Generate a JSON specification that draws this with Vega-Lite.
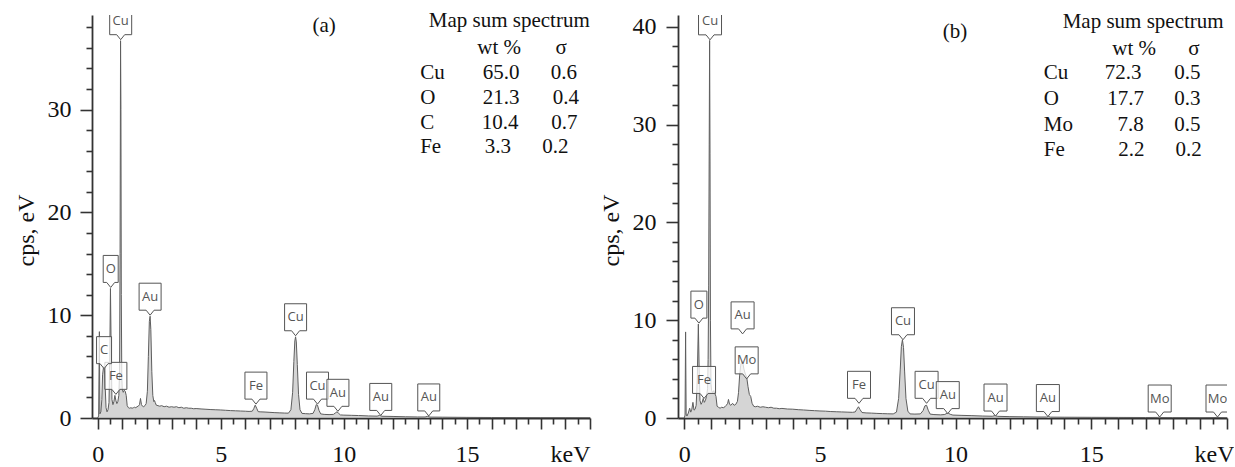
{
  "$schema": "https://vega.github.io/schema/vega-lite/v6.json",
  "background": "white",
  "padding": {"left": 14, "top": 10, "right": 0, "bottom": 0},
  "spacing": 8,
  "config": {
    "view": {"stroke": null},
    "axis": {
      "labelFont": "Liberation Serif", "labelFontSize": 24, "labelColor": "#111",
      "titleFont": "Liberation Serif", "titleFontSize": 24, "titleFontWeight": "normal", "titleColor": "#111",
      "domainColor": "#333", "domainWidth": 1.8, "tickColor": "#333", "tickWidth": 1.6,
      "grid": false, "labelOverlap": false, "labelBound": false, "labelFlush": false
    }
  },
  "datasets": {
    "specA": [
      {"keV":0,"cps":0},{"keV":0.04,"cps":0.2},{"keV":0.07,"cps":8.4},{"keV":0.09,"cps":0.4},{"keV":0.13,"cps":0.6},{"keV":0.17,"cps":1.8},{"keV":0.2,"cps":4.2},{"keV":0.24,"cps":5.0},{"keV":0.28,"cps":4.6},{"keV":0.31,"cps":2.8},{"keV":0.34,"cps":1.0},{"keV":0.38,"cps":0.6},{"keV":0.42,"cps":0.8},{"keV":0.46,"cps":1.5},{"keV":0.49,"cps":5.5},{"keV":0.52,"cps":12.6},{"keV":0.55,"cps":6.5},{"keV":0.58,"cps":1.8},{"keV":0.62,"cps":1.3},{"keV":0.66,"cps":1.6},{"keV":0.7,"cps":2.2},{"keV":0.74,"cps":1.7},{"keV":0.78,"cps":1.4},{"keV":0.82,"cps":1.6},{"keV":0.86,"cps":2.2},{"keV":0.89,"cps":4.5},{"keV":0.91,"cps":16},{"keV":0.93,"cps":36.7},{"keV":0.945,"cps":30},{"keV":0.96,"cps":12},{"keV":0.98,"cps":4},{"keV":1.0,"cps":2.8},{"keV":1.04,"cps":2.5},{"keV":1.08,"cps":2.7},{"keV":1.12,"cps":2.6},{"keV":1.16,"cps":2.2},{"keV":1.2,"cps":1.2},{"keV":1.25,"cps":1.0},{"keV":1.3,"cps":0.95},{"keV":1.35,"cps":1.0},{"keV":1.4,"cps":0.95},{"keV":1.45,"cps":1.0},{"keV":1.5,"cps":1.05},{"keV":1.55,"cps":1.0},{"keV":1.6,"cps":1.1},{"keV":1.65,"cps":1.15},{"keV":1.7,"cps":1.3},{"keV":1.74,"cps":1.9},{"keV":1.78,"cps":1.3},{"keV":1.82,"cps":1.15},{"keV":1.87,"cps":1.1},{"keV":1.92,"cps":1.2},{"keV":1.97,"cps":1.4},{"keV":2.02,"cps":2.6},{"keV":2.06,"cps":6.0},{"keV":2.1,"cps":9.4},{"keV":2.13,"cps":9.9},{"keV":2.16,"cps":8.6},{"keV":2.2,"cps":4.5},{"keV":2.24,"cps":2.2},{"keV":2.28,"cps":1.6},{"keV":2.31,"cps":1.7},{"keV":2.34,"cps":1.5},{"keV":2.38,"cps":1.25},{"keV":2.45,"cps":1.2},{"keV":2.52,"cps":1.15},{"keV":2.6,"cps":1.2},{"keV":2.7,"cps":1.1},{"keV":2.8,"cps":1.15},{"keV":2.9,"cps":1.05},{"keV":3.0,"cps":1.1},{"keV":3.1,"cps":1.05},{"keV":3.2,"cps":1.1},{"keV":3.3,"cps":1.0},{"keV":3.4,"cps":1.05},{"keV":3.5,"cps":0.95},{"keV":3.6,"cps":1.0},{"keV":3.7,"cps":0.95},{"keV":3.8,"cps":0.95},{"keV":3.9,"cps":0.9},{"keV":4.0,"cps":0.92},{"keV":4.2,"cps":0.88},{"keV":4.4,"cps":0.85},{"keV":4.6,"cps":0.82},{"keV":4.8,"cps":0.8},{"keV":5.0,"cps":0.78},{"keV":5.2,"cps":0.75},{"keV":5.4,"cps":0.72},{"keV":5.6,"cps":0.7},{"keV":5.8,"cps":0.68},{"keV":6.0,"cps":0.66},{"keV":6.15,"cps":0.64},{"keV":6.28,"cps":0.66},{"keV":6.34,"cps":0.9},{"keV":6.4,"cps":1.25},{"keV":6.46,"cps":0.95},{"keV":6.52,"cps":0.62},{"keV":6.6,"cps":0.6},{"keV":6.8,"cps":0.58},{"keV":7.0,"cps":0.55},{"keV":7.2,"cps":0.52},{"keV":7.4,"cps":0.5},{"keV":7.6,"cps":0.48},{"keV":7.75,"cps":0.47},{"keV":7.85,"cps":0.8},{"keV":7.92,"cps":2.5},{"keV":7.97,"cps":5.5},{"keV":8.01,"cps":7.5},{"keV":8.04,"cps":7.9},{"keV":8.07,"cps":7.4},{"keV":8.11,"cps":5.2},{"keV":8.16,"cps":2.3},{"keV":8.22,"cps":0.8},{"keV":8.3,"cps":0.45},{"keV":8.45,"cps":0.42},{"keV":8.6,"cps":0.4},{"keV":8.75,"cps":0.45},{"keV":8.82,"cps":0.8},{"keV":8.88,"cps":1.3},{"keV":8.93,"cps":1.25},{"keV":8.99,"cps":0.75},{"keV":9.06,"cps":0.4},{"keV":9.2,"cps":0.35},{"keV":9.4,"cps":0.33},{"keV":9.58,"cps":0.35},{"keV":9.66,"cps":0.5},{"keV":9.72,"cps":0.6},{"keV":9.78,"cps":0.48},{"keV":9.86,"cps":0.3},{"keV":10.0,"cps":0.28},{"keV":10.3,"cps":0.26},{"keV":10.6,"cps":0.24},{"keV":11.0,"cps":0.2},{"keV":11.35,"cps":0.18},{"keV":11.45,"cps":0.25},{"keV":11.55,"cps":0.17},{"keV":12.0,"cps":0.15},{"keV":12.5,"cps":0.12},{"keV":13.0,"cps":0.1},{"keV":13.3,"cps":0.1},{"keV":13.4,"cps":0.16},{"keV":13.5,"cps":0.09},{"keV":14,"cps":0.08},{"keV":15,"cps":0.06},{"keV":16,"cps":0.05},{"keV":17,"cps":0.04},{"keV":18,"cps":0.03},{"keV":19,"cps":0.03},{"keV":20,"cps":0.02}
    ],
    "specB": [
      {"keV":0,"cps":0},{"keV":0.03,"cps":0.3},{"keV":0.05,"cps":8.8},{"keV":0.07,"cps":0.4},{"keV":0.1,"cps":0.2},{"keV":0.15,"cps":0.5},{"keV":0.2,"cps":1.0},{"keV":0.24,"cps":0.6},{"keV":0.28,"cps":0.9},{"keV":0.32,"cps":1.6},{"keV":0.36,"cps":0.8},{"keV":0.4,"cps":0.9},{"keV":0.44,"cps":1.3},{"keV":0.48,"cps":4.0},{"keV":0.52,"cps":9.6},{"keV":0.55,"cps":5.0},{"keV":0.58,"cps":1.8},{"keV":0.62,"cps":1.4},{"keV":0.66,"cps":1.6},{"keV":0.7,"cps":2.0},{"keV":0.74,"cps":1.6},{"keV":0.78,"cps":1.8},{"keV":0.82,"cps":2.2},{"keV":0.86,"cps":3.0},{"keV":0.88,"cps":6.0},{"keV":0.9,"cps":13.5},{"keV":0.92,"cps":28},{"keV":0.935,"cps":38.6},{"keV":0.95,"cps":27},{"keV":0.965,"cps":10},{"keV":0.985,"cps":3.5},{"keV":1.01,"cps":2.8},{"keV":1.05,"cps":2.6},{"keV":1.09,"cps":2.8},{"keV":1.13,"cps":2.5},{"keV":1.17,"cps":2.2},{"keV":1.21,"cps":1.2},{"keV":1.26,"cps":1.1},{"keV":1.32,"cps":1.0},{"keV":1.38,"cps":1.1},{"keV":1.44,"cps":1.05},{"keV":1.5,"cps":1.15},{"keV":1.55,"cps":1.3},{"keV":1.6,"cps":1.5},{"keV":1.63,"cps":1.9},{"keV":1.67,"cps":1.4},{"keV":1.72,"cps":1.3},{"keV":1.78,"cps":1.5},{"keV":1.84,"cps":1.3},{"keV":1.9,"cps":1.4},{"keV":1.96,"cps":1.7},{"keV":2.0,"cps":2.6},{"keV":2.04,"cps":4.3},{"keV":2.08,"cps":5.4},{"keV":2.12,"cps":5.8},{"keV":2.16,"cps":5.6},{"keV":2.2,"cps":5.0},{"keV":2.25,"cps":4.5},{"keV":2.3,"cps":4.2},{"keV":2.35,"cps":3.2},{"keV":2.4,"cps":2.4},{"keV":2.45,"cps":2.2},{"keV":2.5,"cps":1.5},{"keV":2.56,"cps":1.2},{"keV":2.62,"cps":1.15},{"keV":2.7,"cps":1.2},{"keV":2.8,"cps":1.1},{"keV":2.9,"cps":1.15},{"keV":3.0,"cps":1.1},{"keV":3.1,"cps":1.05},{"keV":3.2,"cps":1.1},{"keV":3.3,"cps":1.0},{"keV":3.4,"cps":1.0},{"keV":3.5,"cps":0.95},{"keV":3.6,"cps":0.98},{"keV":3.8,"cps":0.92},{"keV":4.0,"cps":0.9},{"keV":4.2,"cps":0.85},{"keV":4.4,"cps":0.82},{"keV":4.6,"cps":0.78},{"keV":4.8,"cps":0.75},{"keV":5.0,"cps":0.72},{"keV":5.2,"cps":0.7},{"keV":5.4,"cps":0.66},{"keV":5.6,"cps":0.64},{"keV":5.8,"cps":0.62},{"keV":6.0,"cps":0.6},{"keV":6.2,"cps":0.58},{"keV":6.3,"cps":0.62},{"keV":6.36,"cps":0.9},{"keV":6.42,"cps":1.15},{"keV":6.48,"cps":0.85},{"keV":6.55,"cps":0.56},{"keV":6.7,"cps":0.52},{"keV":6.9,"cps":0.5},{"keV":7.1,"cps":0.47},{"keV":7.3,"cps":0.45},{"keV":7.5,"cps":0.43},{"keV":7.7,"cps":0.42},{"keV":7.82,"cps":0.6},{"keV":7.9,"cps":2.0},{"keV":7.96,"cps":5.0},{"keV":8.0,"cps":7.3},{"keV":8.04,"cps":8.0},{"keV":8.08,"cps":7.2},{"keV":8.12,"cps":4.8},{"keV":8.17,"cps":2.0},{"keV":8.24,"cps":0.7},{"keV":8.32,"cps":0.42},{"keV":8.5,"cps":0.4},{"keV":8.7,"cps":0.42},{"keV":8.8,"cps":0.75},{"keV":8.87,"cps":1.25},{"keV":8.93,"cps":1.3},{"keV":8.99,"cps":0.8},{"keV":9.06,"cps":0.4},{"keV":9.2,"cps":0.35},{"keV":9.45,"cps":0.32},{"keV":9.6,"cps":0.36},{"keV":9.68,"cps":0.48},{"keV":9.73,"cps":0.5},{"keV":9.8,"cps":0.38},{"keV":9.9,"cps":0.3},{"keV":10.2,"cps":0.27},{"keV":10.6,"cps":0.24},{"keV":11.0,"cps":0.2},{"keV":11.35,"cps":0.18},{"keV":11.45,"cps":0.24},{"keV":11.55,"cps":0.17},{"keV":12,"cps":0.14},{"keV":12.5,"cps":0.12},{"keV":13,"cps":0.1},{"keV":13.35,"cps":0.1},{"keV":13.42,"cps":0.15},{"keV":13.5,"cps":0.09},{"keV":14,"cps":0.08},{"keV":15,"cps":0.07},{"keV":16,"cps":0.06},{"keV":17,"cps":0.05},{"keV":17.45,"cps":0.06},{"keV":17.5,"cps":0.1},{"keV":17.55,"cps":0.05},{"keV":18,"cps":0.04},{"keV":19,"cps":0.03},{"keV":19.6,"cps":0.05},{"keV":20,"cps":0.03}
    ],
    "labA": [
      {"el":"C","keV":0.26,"cps":4.8},{"el":"O","keV":0.53,"cps":12.7},{"el":"Cu","keV":0.935,"cps":36.8},{"el":"Fe","keV":0.74,"cps":2.3},{"el":"Au","keV":2.13,"cps":10.0},{"el":"Fe","keV":6.43,"cps":1.35},{"el":"Cu","keV":8.04,"cps":8.0},{"el":"Cu","keV":8.93,"cps":1.35},{"el":"Au","keV":9.76,"cps":0.65},{"el":"Au","keV":11.5,"cps":0.25},{"el":"Au","keV":13.45,"cps":0.2}
    ],
    "labB": [
      {"el":"O","keV":0.54,"cps":9.7},{"el":"Cu","keV":0.95,"cps":38.66},{"el":"Fe","keV":0.73,"cps":2.0},{"el":"Au","keV":2.15,"cps":8.6},{"el":"Mo","keV":2.3,"cps":4.0},{"el":"Fe","keV":6.44,"cps":1.5},{"el":"Cu","keV":8.06,"cps":8.0},{"el":"Cu","keV":8.93,"cps":1.5},{"el":"Au","keV":9.71,"cps":0.45},{"el":"Au","keV":11.47,"cps":0.2},{"el":"Au","keV":13.4,"cps":0.15},{"el":"Mo","keV":17.52,"cps":0.1},{"el":"Mo","keV":19.65,"cps":0.1}
    ],
    "tabA": [
      {"t":"(a)","col":"head","keV":9.2,"cps":38.1},
      {"t":"Map sum spectrum","col":"head","keV":16.72,"cps":38.61},
      {"t":"wt %","col":"head","keV":16.31,"cps":36.03},
      {"t":"σ","col":"head","keV":18.83,"cps":36.03},
      {"t":"Cu","col":"name","keV":13.1,"cps":33.56},
      {"t":"65.0","col":"val","keV":16.39,"cps":33.56},
      {"t":"0.6","col":"val","keV":18.94,"cps":33.56},
      {"t":"O","col":"name","keV":13.1,"cps":31.13},
      {"t":"21.3","col":"val","keV":16.39,"cps":31.13},
      {"t":"0.4","col":"val","keV":19.02,"cps":31.13},
      {"t":"C","col":"name","keV":13.1,"cps":28.7},
      {"t":"10.4","col":"val","keV":16.35,"cps":28.7},
      {"t":"0.7","col":"val","keV":18.96,"cps":28.7},
      {"t":"Fe","col":"name","keV":13.1,"cps":26.37},
      {"t":"3.3","col":"val","keV":16.26,"cps":26.37},
      {"t":"0.2","col":"val","keV":18.59,"cps":26.37}
    ],
    "tabB": [
      {"t":"(b)","col":"head","keV":9.98,"cps":39.51},
      {"t":"Map sum spectrum","col":"head","keV":16.91,"cps":40.53},
      {"t":"wt %","col":"head","keV":16.58,"cps":37.74},
      {"t":"σ","col":"head","keV":18.78,"cps":37.74},
      {"t":"Cu","col":"name","keV":13.25,"cps":35.31},
      {"t":"72.3","col":"val","keV":16.17,"cps":35.31},
      {"t":"0.5","col":"val","keV":18.54,"cps":35.31},
      {"t":"O","col":"name","keV":13.25,"cps":32.62},
      {"t":"17.7","col":"val","keV":16.26,"cps":32.62},
      {"t":"0.3","col":"val","keV":18.54,"cps":32.62},
      {"t":"Mo","col":"name","keV":13.25,"cps":29.97},
      {"t":"7.8","col":"val","keV":16.45,"cps":29.97},
      {"t":"0.5","col":"val","keV":18.54,"cps":29.97},
      {"t":"Fe","col":"name","keV":13.25,"cps":27.4},
      {"t":"2.2","col":"val","keV":16.48,"cps":27.4},
      {"t":"0.2","col":"val","keV":18.59,"cps":27.4}
    ]
  },
  "hconcat": [
    {
      "width": 498,
      "height": 403,
      "encoding": {
        "x": {"field": "keV", "type": "quantitative",
          "scale": {"domain": [-0.23, 20], "nice": false, "zero": false},
          "axis": {"title": null,
            "values": [0,0.5,1,1.5,2,2.5,3,3.5,4,4.5,5,5.5,6,6.5,7,7.5,8,8.5,9,9.5,10,10.5,11,11.5,12,12.5,13,13.5,14,14.5,15,15.5,16,16.5,17,17.5,18,18.5,19,19.5,20],
            "labelExpr": "datum.value === 20 ? 'keV' : (datum.value % 5 === 0 ? format(datum.value, 'd') : '')",
            "labelFont": "Liberation Serif", "labelFontSize": 24,
            "labelAlign": {"condition": {"test": "datum.value === 20", "value": "right"}, "value": "center"},
            "tickSize": {"condition": {"test": "datum.value % 1 === 0", "value": 11}, "value": 6},
            "labelPadding": 13}},
        "y": {"field": "cps", "type": "quantitative",
          "scale": {"domain": [0, 39.2], "nice": false},
          "axis": {"title": "cps, eV",
            "values": [0,2,4,6,8,10,12,14,16,18,20,22,24,26,28,30,32,34,36,38],
            "labelExpr": "datum.value % 10 === 0 ? format(datum.value, 'd') : ''",
            "labelFont": "Liberation Serif", "labelFontSize": 24,
            "tickSize": {"condition": {"test": "datum.value % 10 === 0", "value": 12}, "value": 6},
            "labelPadding": 9, "titlePadding": 9, "titleY": 215}}
      },
      "layer": [
        {"data": {"name": "specA"}, "mark": {"type": "area", "color": "#c3c3c3", "clip": true, "line": {"color": "#5e5e5e", "strokeWidth": 1}}},
        {"data": {"name": "labA"}, "transform": [{"filter": "length(datum.el) > 1"}],
         "mark": {"type": "point", "shape": "M-2.2,-6.4H2.2V-1H0.8L0,0L-0.8,-1H-2.2Z", "size": 100, "filled": true, "fill": "white", "fillOpacity": 0.75, "stroke": "#555", "strokeWidth": 1, "opacity": 1, "clip": true}},
        {"data": {"name": "labA"}, "transform": [{"filter": "length(datum.el) === 1"}],
         "mark": {"type": "point", "shape": "M-1.5,-6.4H1.5V-1H0.8L0,0L-0.8,-1H-1.5Z", "size": 100, "filled": true, "fill": "white", "fillOpacity": 0.75, "stroke": "#555", "strokeWidth": 1, "opacity": 1, "clip": true}},
        {"data": {"name": "labA"}, "mark": {"type": "text", "font": "Open Sans", "fontSize": 13, "color": "#555", "dy": -18.5, "baseline": "middle", "align": "center", "clip": true}, "encoding": {"text": {"field": "el"}}},
        {"data": {"name": "tabA"}, "transform": [{"filter": "datum.col === 'name'"}], "mark": {"type": "text", "font": "Liberation Serif", "fontSize": 21, "color": "#111", "baseline": "middle", "align": "left"}, "encoding": {"text": {"field": "t"}}},
        {"data": {"name": "tabA"}, "transform": [{"filter": "datum.col !== 'name'"}], "mark": {"type": "text", "font": "Liberation Serif", "fontSize": 21, "color": "#111", "baseline": "middle", "align": "center"}, "encoding": {"text": {"field": "t"}}}
      ]
    },
    {
      "width": 549,
      "height": 403,
      "encoding": {
        "x": {"field": "keV", "type": "quantitative",
          "scale": {"domain": [-0.23, 20], "nice": false, "zero": false},
          "axis": {"title": null,
            "values": [0,0.5,1,1.5,2,2.5,3,3.5,4,4.5,5,5.5,6,6.5,7,7.5,8,8.5,9,9.5,10,10.5,11,11.5,12,12.5,13,13.5,14,14.5,15,15.5,16,16.5,17,17.5,18,18.5,19,19.5,20],
            "labelExpr": "datum.value === 20 ? 'keV' : (datum.value % 5 === 0 ? format(datum.value, 'd') : '')",
            "labelFont": "Liberation Serif", "labelFontSize": 24,
            "labelAlign": {"condition": {"test": "datum.value === 20", "value": "right"}, "value": "center"},
            "labelOffset": {"condition": {"test": "datum.value === 20", "value": 7}, "value": 0},
            "tickSize": {"condition": {"test": "datum.value % 1 === 0", "value": 11}, "value": 6},
            "labelPadding": 13}},
        "y": {"field": "cps", "type": "quantitative",
          "scale": {"domain": [0, 41.2], "nice": false},
          "axis": {"title": "cps, eV",
            "values": [0,2,4,6,8,10,12,14,16,18,20,22,24,26,28,30,32,34,36,38,40],
            "labelExpr": "datum.value % 10 === 0 ? format(datum.value, 'd') : ''",
            "labelFont": "Liberation Serif", "labelFontSize": 24,
            "tickSize": {"condition": {"test": "datum.value % 10 === 0", "value": 12}, "value": 6},
            "labelPadding": 10, "titlePadding": 9, "titleY": 215}}
      },
      "layer": [
        {"data": {"name": "specB"}, "mark": {"type": "area", "color": "#c3c3c3", "clip": true, "line": {"color": "#5e5e5e", "strokeWidth": 1}}},
        {"data": {"name": "labB"}, "transform": [{"filter": "length(datum.el) > 1"}],
         "mark": {"type": "point", "shape": "M-2.3,-6.4H2.3V-1H0.8L0,0L-0.8,-1H-2.3Z", "size": 100, "filled": true, "fill": "white", "fillOpacity": 0.75, "stroke": "#555", "strokeWidth": 1, "opacity": 1, "clip": true}},
        {"data": {"name": "labB"}, "transform": [{"filter": "length(datum.el) === 1"}],
         "mark": {"type": "point", "shape": "M-1.6,-6.4H1.6V-1H0.8L0,0L-0.8,-1H-1.6Z", "size": 100, "filled": true, "fill": "white", "fillOpacity": 0.75, "stroke": "#555", "strokeWidth": 1, "opacity": 1, "clip": true}},
        {"data": {"name": "labB"}, "mark": {"type": "text", "font": "Open Sans", "fontSize": 13, "color": "#555", "dy": -18.5, "baseline": "middle", "align": "center", "clip": true}, "encoding": {"text": {"field": "el"}}},
        {"data": {"name": "tabB"}, "transform": [{"filter": "datum.col === 'name'"}], "mark": {"type": "text", "font": "Liberation Serif", "fontSize": 21, "color": "#111", "baseline": "middle", "align": "left"}, "encoding": {"text": {"field": "t"}}},
        {"data": {"name": "tabB"}, "transform": [{"filter": "datum.col !== 'name'"}], "mark": {"type": "text", "font": "Liberation Serif", "fontSize": 21, "color": "#111", "baseline": "middle", "align": "center"}, "encoding": {"text": {"field": "t"}}}
      ]
    }
  ]
}
